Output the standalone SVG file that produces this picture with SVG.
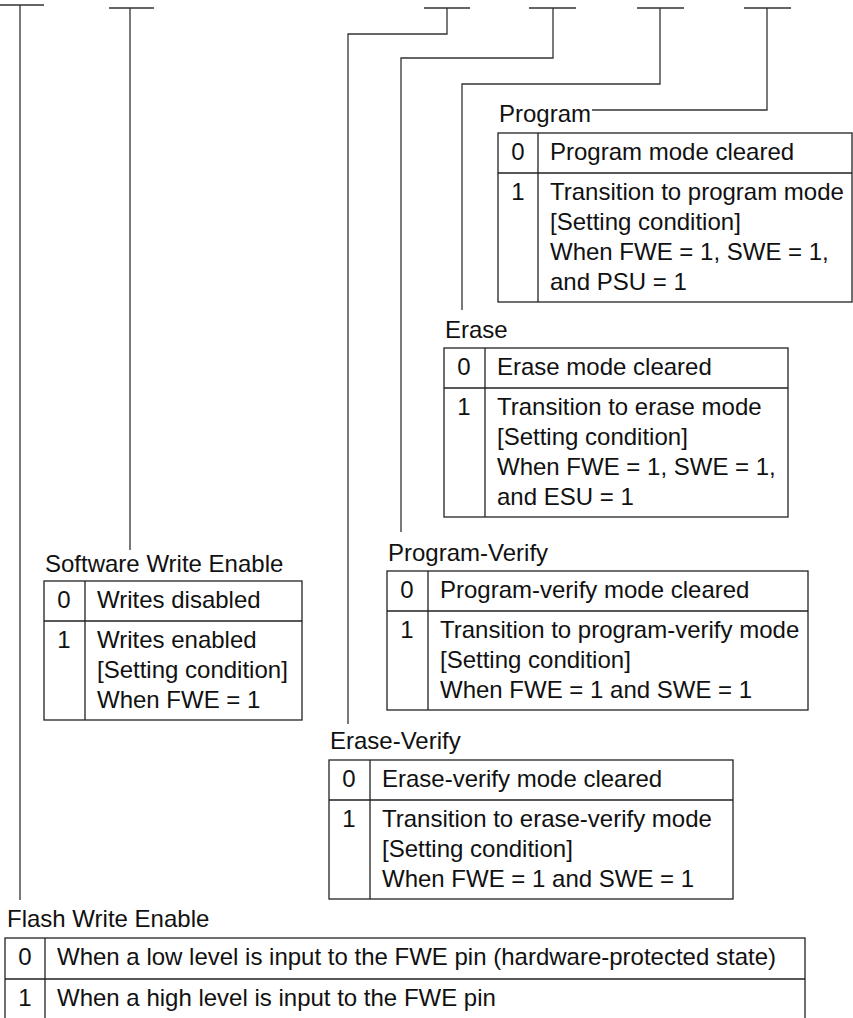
<svg xmlns="http://www.w3.org/2000/svg" width="853" height="1018" viewBox="0 0 853 1018">
<style>
text{font-family:"Liberation Sans",Arial,Helvetica,sans-serif;font-size:24px;fill:#111}
.n{text-anchor:middle}
.b{fill:none;stroke:#222;stroke-width:1.3}
.c{fill:none;stroke:#333;stroke-width:1.3}
</style>
<rect width="853" height="1018" fill="#fff"/>
<g id="connectors">
<path class="c" d="M0 5H44M20 5V900"/>
<path class="c" d="M109 8H154M130 8V550"/>
<path class="c" d="M424 8H470M447 8V34H348V724"/>
<path class="c" d="M529 8H576M553 8V58H401V532"/>
<path class="c" d="M637 8H684M660 8V84H462V310"/>
<path class="c" d="M744 8H791M767 8V110H592"/>
</g>
<g id="program">
<text x="499" y="122">Program</text>
<rect class="b" x="498" y="133" width="354" height="169"/>
<path class="b" d="M498 173H852M538 133V302"/>
<text class="n" x="518" y="160">0</text><text x="550" y="160">Program mode cleared</text>
<text class="n" x="518" y="200">1</text><text x="550" y="200">Transition to program mode</text>
<text x="550" y="230">[Setting condition]</text>
<text x="550" y="260">When FWE = 1, SWE = 1,</text>
<text x="550" y="290">and PSU = 1</text>
</g>
<g id="erase">
<text x="445" y="338">Erase</text>
<rect class="b" x="444" y="348" width="344" height="169"/>
<path class="b" d="M444 388H788M485 348V517"/>
<text class="n" x="464" y="375">0</text><text x="497" y="375">Erase mode cleared</text>
<text class="n" x="464" y="415">1</text><text x="497" y="415">Transition to erase mode</text>
<text x="497" y="445">[Setting condition]</text>
<text x="497" y="475">When FWE = 1, SWE = 1,</text>
<text x="497" y="505">and ESU = 1</text>
</g>
<g id="swe">
<text x="45" y="572">Software Write Enable</text>
<rect class="b" x="44" y="581" width="258" height="139"/>
<path class="b" d="M44 621H302M85 581V720"/>
<text class="n" x="64" y="608">0</text><text x="97" y="608">Writes disabled</text>
<text class="n" x="64" y="648">1</text><text x="97" y="648">Writes enabled</text>
<text x="97" y="678">[Setting condition]</text>
<text x="97" y="708">When FWE = 1</text>
</g>
<g id="program-verify">
<text x="388" y="561">Program-Verify</text>
<rect class="b" x="387" y="571" width="421" height="139"/>
<path class="b" d="M387 611H808M428 571V710"/>
<text class="n" x="407" y="598">0</text><text x="440" y="598">Program-verify mode cleared</text>
<text class="n" x="407" y="638">1</text><text x="440" y="638">Transition to program-verify mode</text>
<text x="440" y="668">[Setting condition]</text>
<text x="440" y="698">When FWE = 1 and SWE = 1</text>
</g>
<g id="erase-verify">
<text x="330" y="749">Erase-Verify</text>
<rect class="b" x="329" y="760" width="404" height="139"/>
<path class="b" d="M329 800H733M370 760V899"/>
<text class="n" x="349" y="787">0</text><text x="382" y="787">Erase-verify mode cleared</text>
<text class="n" x="349" y="827">1</text><text x="382" y="827">Transition to erase-verify mode</text>
<text x="382" y="857">[Setting condition]</text>
<text x="382" y="887">When FWE = 1 and SWE = 1</text>
</g>
<g id="fwe">
<text x="7" y="927">Flash Write Enable</text>
<rect class="b" x="5" y="938" width="800" height="100"/>
<path class="b" d="M5 979H805M45 938V1038"/>
<text class="n" x="25" y="965">0</text><text x="57" y="965">When a low level is input to the FWE pin (hardware-protected state)</text>
<text class="n" x="25" y="1006">1</text><text x="57" y="1006">When a high level is input to the FWE pin</text>
</g>
</svg>
